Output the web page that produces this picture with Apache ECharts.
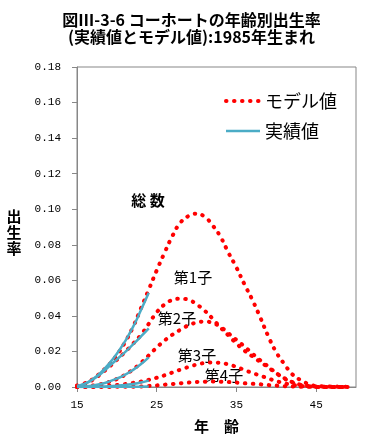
<!DOCTYPE html>
<html>
<head>
<meta charset="utf-8">
<script src="https://cdn.jsdelivr.net/npm/echarts@6/dist/echarts.min.js"></script>
<style>
html,body{margin:0;padding:0;background:#fff;}
#chart{width:383px;height:441px;}
</style>
</head>
<body>
<div id="chart"></div>
<script>
// Ages (x) for the model curves and for the observed (actual) values
const ages = [15,16,17,18,19,20,21,22,23,24,25,26,27,28,29,30,31,32,33,34,35,36,37,38,39,40,41,42,43,44,45,46,47,48,49];
const actualAges = [15,16,17,18,19,20,21,22,23,24];

// Model values (モデル値)
const modelTotal = [0.0008,0.0021,0.0045,0.0082,0.0125,0.0180,0.0250,0.0335,0.0440,0.0548,0.0656,0.0757,0.0852,0.0926,0.0962,0.0975,0.0958,0.0910,0.0845,0.0755,0.0672,0.0578,0.0490,0.0390,0.0285,0.0195,0.0130,0.0072,0.0040,0.0018,0.0006,0.0004,0.0003,0.0002,0.0002];
const model1st   = [0.0006,0.0018,0.0041,0.0074,0.0112,0.0153,0.0196,0.0242,0.0292,0.0355,0.0420,0.0465,0.0490,0.0497,0.0490,0.0465,0.0430,0.0385,0.0335,0.0290,0.0245,0.0205,0.0172,0.0140,0.0110,0.0078,0.0050,0.0028,0.0013,0.0005,0.0002,0.0001,0.0001,0,0];
const model2nd   = [0.0001,0.0003,0.0008,0.0016,0.0028,0.0045,0.0068,0.0098,0.0135,0.0178,0.0222,0.0262,0.0295,0.0323,0.0347,0.0362,0.0368,0.0360,0.0338,0.0302,0.0265,0.0228,0.0188,0.0150,0.0115,0.0078,0.0048,0.0026,0.0012,0.0005,0.0002,0.0001,0,0,0];
const model3rd   = [0,0.0001,0.0002,0.0004,0.0007,0.0011,0.0016,0.0023,0.0030,0.0040,0.0052,0.0066,0.0082,0.0098,0.0113,0.0126,0.0135,0.0138,0.0135,0.0127,0.0113,0.0096,0.0079,0.0064,0.0048,0.0033,0.0021,0.0012,0.0006,0.0003,0.0001,0,0,0,0];
const model4th   = [0,0,0,0,0,0.0001,0.0001,0.0002,0.0003,0.0006,0.0009,0.0013,0.0017,0.0021,0.0025,0.0028,0.0030,0.0031,0.0030,0.0028,0.0025,0.0021,0.0018,0.0015,0.0011,0.0008,0.0005,0.0003,0.0002,0.0001,0,0,0,0,0];

// Observed values (実績値), ages 15-24
const actualTotal = [0.0006,0.0019,0.0045,0.0082,0.0130,0.0187,0.0255,0.0335,0.0430,0.0530];
const actual1st   = [0.0005,0.0018,0.0042,0.0075,0.0115,0.0155,0.0195,0.0238,0.0283,0.0330];
const actual2nd   = [0.0001,0.0003,0.0008,0.0017,0.0030,0.0047,0.0068,0.0095,0.0128,0.0167];
const actual3rd   = [0,0,0.0001,0.0002,0.0004,0.0007,0.0011,0.0017,0.0025,0.0036];
const actual4th   = [0,0,0,0,0,0.0001,0.0001,0.0001,0.0002,0.0003];

// Axis ticks
const xTicks = [15,25,35,45];
const yMin = 0, yMax = 0.18, yStep = 0.02;

const FONT = '"Noto Sans CJK JP", "Noto Sans", sans-serif';
const NUMFONT = '"Liberation Mono", "DejaVu Sans Mono", monospace';
const RED = '#FF0000';
const BLUE = '#4BACC6';
const dotStyle = {color: RED, width: 4, type: [0.5, 7.5], cap: 'round'};

function pairs(xs, ys){ return xs.map((x,i)=>[x, ys[i]]); }
function modelSeries(vals){
  return {name:'モデル値', type:'line', data: pairs(ages, vals), smooth: true, symbol:'none',
    lineStyle: dotStyle, itemStyle:{color:RED}, z: 2, animation:false};
}
function actualSeries(vals){
  return {name:'実績値', type:'line', data: pairs(actualAges, vals), smooth: true, symbol:'none',
    lineStyle: {color: BLUE, width: 2.5}, itemStyle:{color:BLUE}, z: 3, animation:false};
}

const chart = echarts.init(document.getElementById('chart'), null, {renderer:'canvas'});
chart.setOption({
  animation: false,
  backgroundColor: '#fff',
  title: {
    text: '図Ⅲ-3-6 コーホートの年齢別出生率\n(実績値とモデル値):1985年生まれ',
    left: 'center', top: 6,
    textStyle: {fontFamily: FONT, fontSize: 16, fontWeight: 'bold', color: '#000', lineHeight: 17}
  },
  legend: {
    orient: 'vertical', left: 219, top: 87, itemWidth: 34, itemHeight: 10, itemGap: 12,
    textStyle: {fontFamily: FONT, fontSize: 18, color: '#000'},
    data: [
      {name: 'モデル値', itemStyle: {opacity: 0}, lineStyle: {width: 4, type: [0.5, 7.5], cap: 'round', color: RED}},
      {name: '実績値', itemStyle: {opacity: 0}, lineStyle: {width: 2.5, type: 'solid', color: BLUE}}
    ]
  },
  grid: {left: 77, right: 27, top: 67, bottom: 54, show: true, borderColor: '#878787', borderWidth: 1},
  xAxis: {
    type: 'value', min: 15, max: 50,
    name: '年　齢', nameLocation: 'middle', nameGap: 32,
    nameTextStyle: {fontFamily: FONT, fontSize: 15, fontWeight: 'bold', color: '#000'},
    axisLine: {lineStyle: {color: '#878787'}},
    axisTick: {show: true, length: 5, lineStyle: {color: '#878787'}, customValues: xTicks},
    axisLabel: {fontFamily: NUMFONT, fontSize: 11, color: '#000', margin: 13, customValues: xTicks},
    splitLine: {show: false}
  },
  yAxis: {
    type: 'value', min: yMin, max: yMax, interval: yStep,
    axisLine: {show: true, lineStyle: {color: '#878787'}},
    axisTick: {show: true, length: 5, lineStyle: {color: '#878787'}},
    axisLabel: {fontFamily: NUMFONT, fontSize: 11, color: '#000', margin: 16,
      formatter: v => v.toFixed(2)},
    splitLine: {show: false}
  },
  graphic: [
    {type:'text', x: 14, y: 216, style:{text:'出', font:'bold 15px '+FONT, fill:'#000', align:'center', verticalAlign:'middle'}},
    {type:'text', x: 14, y: 232, style:{text:'生', font:'bold 15px '+FONT, fill:'#000', align:'center', verticalAlign:'middle'}},
    {type:'text', x: 14, y: 248, style:{text:'率', font:'bold 15px '+FONT, fill:'#000', align:'center', verticalAlign:'middle'}},
    {type:'text', x: 148, y: 200, style:{text:'総 数', font:'bold 15px '+FONT, fill:'#000', align:'center', verticalAlign:'middle'}},
    {type:'text', x: 193, y: 277, style:{text:'第1子', font:'15px '+FONT, fill:'#000', align:'center', verticalAlign:'middle'}},
    {type:'text', x: 177, y: 318, style:{text:'第2子', font:'15px '+FONT, fill:'#000', align:'center', verticalAlign:'middle'}},
    {type:'text', x: 197, y: 355, style:{text:'第3子', font:'15px '+FONT, fill:'#000', align:'center', verticalAlign:'middle'}},
    {type:'text', x: 224, y: 375, style:{text:'第4子', font:'15px '+FONT, fill:'#000', align:'center', verticalAlign:'middle'}}
  ],
  series: [
    modelSeries(modelTotal), modelSeries(model1st), modelSeries(model2nd), modelSeries(model3rd), modelSeries(model4th),
    actualSeries(actualTotal), actualSeries(actual1st), actualSeries(actual2nd), actualSeries(actual3rd), actualSeries(actual4th)
  ]
});
</script>
</body>
</html>
